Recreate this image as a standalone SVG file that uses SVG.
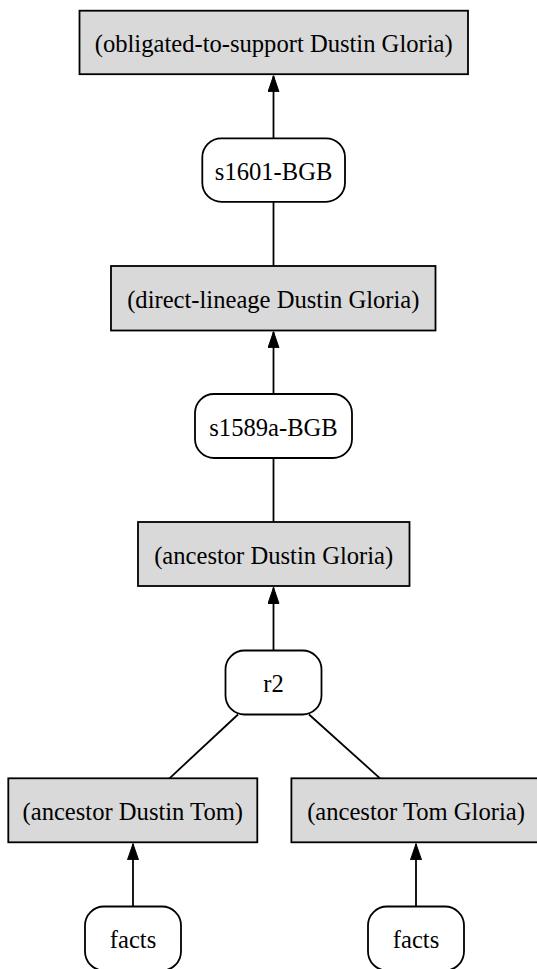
<svg xmlns="http://www.w3.org/2000/svg" width="537" height="969" viewBox="0 0 537 969">
<style>
.box{fill:#d9d9d9;stroke:#000;stroke-width:1.8}
.rule{fill:#fff;stroke:#000;stroke-width:1.8}
.lbl{font-family:"Liberation Serif","Times New Roman",serif;font-size:24.6px;fill:#000;text-anchor:middle}
.edge{stroke:#000;stroke-width:1.8;fill:none}
</style>
<defs>
<marker id="arr" markerUnits="userSpaceOnUse" markerWidth="17" markerHeight="12" refX="16" refY="6" orient="auto" viewBox="0 0 17 12">
<path d="M0,0.5 L16,6 L0,11.5 z" fill="#000" stroke="#000" stroke-width="1"/>
</marker>
</defs>
<rect width="537" height="969" fill="#fff"/>
<g id="connectors">
<line class="edge" x1="273.5" y1="138.3" x2="273.5" y2="75.8" marker-end="url(#arr)"/>
<line class="edge" x1="273.5" y1="201.8" x2="273.5" y2="266"/>
<line class="edge" x1="273.5" y1="394" x2="273.5" y2="331.8" marker-end="url(#arr)"/>
<line class="edge" x1="273.5" y1="458" x2="273.5" y2="522"/>
<line class="edge" x1="273.5" y1="650.5" x2="273.5" y2="587.5" marker-end="url(#arr)"/>
<line class="edge" x1="238" y1="714.5" x2="169.5" y2="778.3"/>
<line class="edge" x1="309" y1="714.5" x2="380" y2="778.3"/>
<line class="edge" x1="133" y1="906.5" x2="133" y2="843.8" marker-end="url(#arr)"/>
<line class="edge" x1="416" y1="906.5" x2="416" y2="843.8" marker-end="url(#arr)"/>
</g>
<g id="n_obligated">
<rect class="box" x="79.5" y="10.7" width="388.5" height="63.5"/>
<text class="lbl" x="273.7" y="52">(obligated-to-support Dustin Gloria)</text>
</g>
<g id="n_s1601">
<rect class="rule" x="202.3" y="138.3" width="142.7" height="63.5" rx="19" ry="19"/>
<text class="lbl" x="273.6" y="180">s1601-BGB</text>
</g>
<g id="n_direct">
<rect class="box" x="111" y="266" width="324.5" height="64.5"/>
<text class="lbl" x="273.3" y="307.7">(direct-lineage Dustin Gloria)</text>
</g>
<g id="n_s1589a">
<rect class="rule" x="195" y="394" width="157" height="64" rx="19" ry="19"/>
<text class="lbl" x="273.5" y="435.5">s1589a-BGB</text>
</g>
<g id="n_ancDG">
<rect class="box" x="138" y="522" width="271.5" height="64"/>
<text class="lbl" x="273.7" y="563.5">(ancestor Dustin Gloria)</text>
</g>
<g id="n_r2">
<rect class="rule" x="225.5" y="650.5" width="96" height="64" rx="19" ry="19"/>
<text class="lbl" x="273.5" y="692">r2</text>
</g>
<g id="n_ancDT">
<rect class="box" x="8.3" y="778.3" width="249" height="64"/>
<text class="lbl" x="132.8" y="819.8">(ancestor Dustin Tom)</text>
</g>
<g id="n_ancTG">
<rect class="box" x="291.4" y="778.3" width="249.2" height="64"/>
<text class="lbl" x="416" y="819.8">(ancestor Tom Gloria)</text>
</g>
<g id="n_facts1">
<rect class="rule" x="85" y="906.5" width="96" height="64" rx="19" ry="19"/>
<text class="lbl" x="133" y="948">facts</text>
</g>
<g id="n_facts2">
<rect class="rule" x="368" y="906.5" width="96" height="64" rx="19" ry="19"/>
<text class="lbl" x="416" y="948">facts</text>
</g>
</svg>
